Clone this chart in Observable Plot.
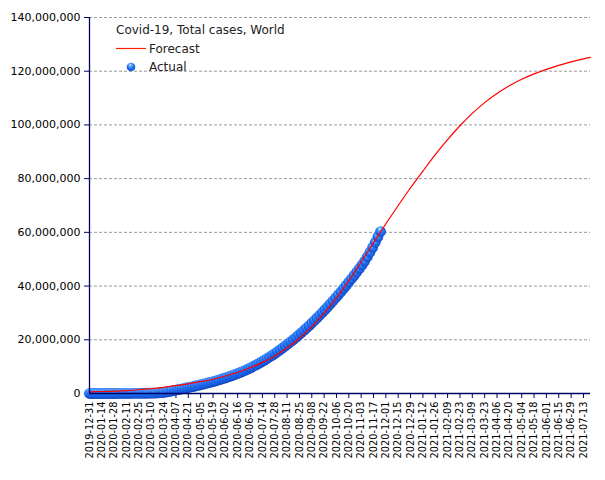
<!DOCTYPE html>
<html><head><meta charset="utf-8">
<script src="https://cdn.jsdelivr.net/npm/d3@7"></script>
<script src="https://cdn.jsdelivr.net/npm/@observablehq/plot@0.6"></script>
<style>body{margin:0;background:#fff}</style>
</head><body><div id="chart"></div>
<script>
const title = "Covid-19, Total cases, World";
const seriesNames = ["Forecast", "Actual"];
const yTicks = [0, 20e6, 40e6, 60e6, 80e6, 100e6, 120e6, 140e6];
const xTickDates = ["2019-12-31","2020-01-14","2020-01-28","2020-02-11","2020-02-25","2020-03-10","2020-03-24","2020-04-07","2020-04-21","2020-05-05","2020-05-19","2020-06-02","2020-06-16","2020-06-30","2020-07-14","2020-07-28","2020-08-11","2020-08-25","2020-09-08","2020-09-22","2020-10-06","2020-10-20","2020-11-03","2020-11-17","2020-12-01","2020-12-15","2020-12-29","2021-01-12","2021-01-26","2021-02-09","2021-02-23","2021-03-09","2021-03-23","2021-04-06","2021-04-20","2021-05-04","2021-05-18","2021-06-01","2021-06-15","2021-06-29","2021-07-13"];
const xDomain = ["2019-12-31", "2021-07-21"];

// Forecast (millions)
const forecastDates = ["2019-12-31","2020-01-14","2020-01-28","2020-02-11","2020-02-25","2020-03-10","2020-03-24","2020-04-07","2020-04-21","2020-05-05","2020-05-19","2020-06-02","2020-06-16","2020-06-30","2020-07-14","2020-07-28","2020-08-11","2020-08-25","2020-09-08","2020-09-22","2020-10-06","2020-10-20","2020-11-03","2020-11-17","2020-12-01","2020-12-15","2020-12-29","2021-01-12","2021-01-26","2021-02-09","2021-02-23","2021-03-09","2021-03-23","2021-04-06","2021-04-20","2021-05-04","2021-05-18","2021-06-01","2021-06-15","2021-06-29","2021-07-13","2021-07-21"];
const forecastValues = [0.6,0.75,0.9,1.1,1.4,1.8,2.3,2.9,3.6,4.4,5.3,6.5,7.9,9.6,11.6,14.0,17.0,20.6,24.9,29.9,35.6,42.0,49.0,56.2,63.2,70.0,76.6,82.8,88.9,94.5,99.7,104.3,108.3,111.7,114.6,117.0,119.0,120.7,122.2,123.5,124.6,125.15];

// Actual (millions)
const actualDates = ["2019-12-31","2020-01-03","2020-01-06","2020-01-09","2020-01-12","2020-01-15","2020-01-18","2020-01-21","2020-01-24","2020-01-27","2020-01-30","2020-02-02","2020-02-05","2020-02-08","2020-02-11","2020-02-14","2020-02-17","2020-02-20","2020-02-23","2020-02-26","2020-02-29","2020-03-03","2020-03-06","2020-03-09","2020-03-12","2020-03-15","2020-03-18","2020-03-21","2020-03-24","2020-03-27","2020-03-30","2020-04-02","2020-04-05","2020-04-08","2020-04-11","2020-04-14","2020-04-17","2020-04-20","2020-04-23","2020-04-26","2020-04-29","2020-05-02","2020-05-05","2020-05-08","2020-05-11","2020-05-14","2020-05-17","2020-05-20","2020-05-23","2020-05-26","2020-05-29","2020-06-01","2020-06-04","2020-06-07","2020-06-10","2020-06-13","2020-06-16","2020-06-19","2020-06-22","2020-06-25","2020-06-28","2020-07-01","2020-07-04","2020-07-07","2020-07-10","2020-07-13","2020-07-16","2020-07-19","2020-07-22","2020-07-25","2020-07-28","2020-07-31","2020-08-03","2020-08-06","2020-08-09","2020-08-12","2020-08-15","2020-08-18","2020-08-21","2020-08-24","2020-08-27","2020-08-30","2020-09-02","2020-09-05","2020-09-08","2020-09-11","2020-09-14","2020-09-17","2020-09-20","2020-09-23","2020-09-26","2020-09-29","2020-10-02","2020-10-05","2020-10-08","2020-10-11","2020-10-14","2020-10-17","2020-10-20","2020-10-23","2020-10-26","2020-10-29","2020-11-01","2020-11-04","2020-11-07","2020-11-10","2020-11-13","2020-11-16","2020-11-19","2020-11-22","2020-11-25"];
const actualValues = [0,0,0,0,0,0,0,0,0.001,0.003,0.008,0.017,0.028,0.037,0.045,0.067,0.073,0.076,0.079,0.082,0.086,0.093,0.102,0.114,
0.13,0.17,0.22,0.30,0.40,0.55,0.72,0.92,1.12,1.33,1.54,1.74,1.95,2.15,2.36,2.58,2.80,3.03,3.26,3.50,3.75,4.00,4.26,4.53,4.81,5.10,5.40,5.71,6.03,6.36,6.71,7.07,7.45,7.85,8.27,8.71,9.17,9.65,10.15,10.67,11.21,11.77,12.35,12.95,13.57,14.21,14.87,15.55,16.25,16.97,17.71,18.47,19.25,20.05,20.87,21.71,22.57,23.45,24.35,25.27,26.21,27.17,28.15,29.15,30.17,31.21,32.27,33.35,34.45,35.57,36.71,37.87,39.05,40.25,41.47,42.71,43.97,45.25,46.55,47.87,49.3,50.9,52.6,54.4,56.3,58.3,60.3];

const parse = d3.utcParse("%Y-%m-%d");
const forecast = forecastDates.map((d, i) => ({date: parse(d), value: forecastValues[i] * 1e6}));
const actual = actualDates.map((d, i) => ({date: parse(d), value: actualValues[i] * 1e6}));
const axisColor = "#000066";

const plot = Plot.plot({
  width: 605,
  height: 480,
  marginLeft: 89,
  marginRight: 15,
  marginTop: 17,
  marginBottom: 87,
  style: {fontFamily: "DejaVu Sans", fontSize: "11px", color: "#000", background: "#fff"},
  x: {type: "utc", domain: xDomain.map(parse)},
  y: {domain: [0, 140e6]},
  marks: [
    Plot.gridY(yTicks.filter(d => d > 0), {stroke: "#999", strokeOpacity: 1, strokeDasharray: "3,2"}),
    Plot.axisY(yTicks, {tickFormat: d3.format(","), tickSize: 5, tickPadding: 4, stroke: axisColor, fontSize: 11, label: null}),
    Plot.axisX(xTickDates.map(parse), {tickFormat: d3.utcFormat("%Y-%m-%d"), tickRotate: -90, tickSize: 5, tickPadding: 3, stroke: axisColor, fontSize: 9.8, label: null}),
    Plot.dot(actual, {x: "date", y: "value", r: 5.4, fill: "url(#ball)", stroke: "none"}),
    Plot.line(forecast, {x: "date", y: "value", stroke: "#ff0000", strokeWidth: 1.2, curve: "monotone-x"}),
    Plot.ruleX([parse(xDomain[0])], {stroke: axisColor, strokeWidth: 1.3}),
    Plot.ruleY([0], {stroke: axisColor, strokeWidth: 1.3})
  ]
});

const svg = d3.select(plot);
const defs = svg.insert("defs", ":first-child");
const g = defs.append("radialGradient").attr("id", "ball")
  .attr("cx", "0.5").attr("cy", "0.45").attr("r", "0.6").attr("fx", "0.4").attr("fy", "0.2");
g.append("stop").attr("offset", "0%").attr("stop-color", "#dcefff");
g.append("stop").attr("offset", "25%").attr("stop-color", "#64acff");
g.append("stop").attr("offset", "60%").attr("stop-color", "#2070f4");
g.append("stop").attr("offset", "85%").attr("stop-color", "#1458dc");
g.append("stop").attr("offset", "100%").attr("stop-color", "#0a2a90");

const leg = svg.append("g").attr("font-family", "DejaVu Sans").attr("font-size", 12).attr("fill", "#222").attr("text-anchor", "start");
leg.append("text").attr("x", 116).attr("y", 30).attr("dy", "0.35em").text(title);
leg.append("line").attr("x1", 116).attr("x2", 146).attr("y1", 48.5).attr("y2", 48.5).attr("stroke", "#ff2000").attr("stroke-width", 1.2);
leg.append("text").attr("x", 149).attr("y", 48.5).attr("dy", "0.35em").text(seriesNames[0]);
leg.append("circle").attr("cx", 131).attr("cy", 67).attr("r", 4.3).attr("fill", "url(#ball)");
leg.append("text").attr("x", 149).attr("y", 66.5).attr("dy", "0.35em").text(seriesNames[1]);

document.getElementById("chart").append(plot);
</script>
</body></html>
